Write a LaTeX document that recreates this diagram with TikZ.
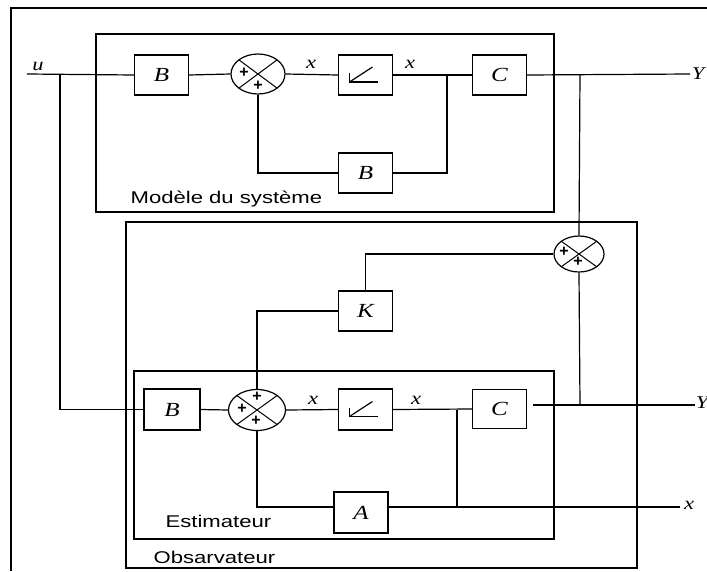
\documentclass[tikz,border=0pt]{standalone}
\usepackage{fontspec}
\setmainfont{Liberation Sans}
\newfontfamily\lblfont[FakeStretch=1.3]{Liberation Sans}
\newfontfamily\symfont[FakeStretch=1.25]{Liberation Serif}
\usetikzlibrary{shapes.geometric,calc}
\newcommand\integsym[1]{%
  \draw ($(#1)+(-16,-2)$) -- ($(#1)+(-16,7)$) -- ($(#1)+(12,7)$);
  \draw ($(#1)+(-16,7)$) -- ($(#1)+(7,-8)$);}
\begin{document}
\begin{tikzpicture}[x=1pt,y=-1pt,line width=1.2pt,
  blk/.style={draw,rectangle,minimum width=54pt,minimum height=40pt,inner sep=0pt,font=\symfont\itshape\fontsize{20}{20}\selectfont},
  summer/.style={draw,ellipse,minimum width=54pt,minimum height=40pt,inner sep=0pt,
    path picture={
      \draw[line width=1pt] ($(path picture bounding box.south west)!0.1464!(path picture bounding box.north east)$) -- ($(path picture bounding box.south west)!0.8536!(path picture bounding box.north east)$);
      \draw[line width=1pt] ($(path picture bounding box.north west)!0.1464!(path picture bounding box.south east)$) -- ($(path picture bounding box.north west)!0.8536!(path picture bounding box.south east)$);}},
  sig/.style={inner sep=0pt,font=\symfont\itshape\fontsize{18}{18}\selectfont},
  plussign/.style={inner sep=0pt,font=\bfseries\fontsize{16}{16}\selectfont},
  title/.style={inner sep=0pt,anchor=west,font=\lblfont\fontsize{17}{17}\selectfont},
  wire/.style={line width=1.2pt}]
\useasboundingbox (0,0) rectangle (707,571);
% outer frame
\draw[line width=1.4pt] (11,571) -- (11,8) -- (707,8);
% model box
\draw (96,34) rectangle (554,212);
\node[title] (lmod) at (130,199) {Modèle du système};
% observer and estimator boxes
\draw (126,222) rectangle (637,568);
\node[title] (lobs) at (153,557) {Obsarvateur};
\draw (134,371) rectangle (554,539);
\node[title] (lest) at (165,521) {Estimateur};

% ---- top row
\coordinate (uin) at (27,74);
\node[sig] (ulab) at (38,66) {u};
\node[blk] (B1) at (161.5,75) {B};
\node[summer] (S1) at (258,74) {};
\node[sig] (x1) at (311,64) {x};
\node[blk] (I1) at (365.5,75) {};
\node[sig] (x2) at (410,64) {x};
\coordinate (J1) at (447,74);
\node[blk] (C1) at (499.5,75) {C};
\coordinate (JY1) at (580,74);
\coordinate (Y1end) at (690,74);
\node[sig] (Y1) at (698,74) {Y};
\node[blk] (B2) at (365.5,173) {B};
\node[plussign] at (244,73) {+};
\node[plussign] at (258,86) {+};

\draw[wire] (uin) -- (B1.west);
\draw[wire] (B1.east) -- (S1.west);
\draw[wire] (S1.east) -- (I1.west);
\draw[wire] (I1.east) -- (C1.west);
\draw[wire] (C1.east) -- (Y1end);
\draw[wire] (S1.south) |- (B2.west);
\draw[wire] (B2.east) -| (J1);
\integsym{I1}

% ---- observer
\node[blk] (K) at (365.5,311) {K};
\node[summer,minimum width=50pt,minimum height=36pt] (S2) at (579,254) {};
\node[plussign] at (564,252) {+};
\node[plussign] at (578,262) {+};

\node[blk,minimum width=56pt,minimum height=41pt] (B3) at (172,409.5) {B};
\node[summer,minimum width=57pt,minimum height=41pt] (S3) at (257,410) {};
\node[plussign] at (257,397) {+};
\node[plussign] at (242,409) {+};
\node[plussign] at (256,421) {+};
\node[sig] (x3) at (313,400) {x};
\node[blk,minimum height=41pt] (I2) at (365.5,409.5) {};
\node[sig] (x4) at (416,400) {x};
\coordinate (J2) at (457,410);
\node[blk,minimum height=39pt] (C2) at (499.5,409) {C};
\coordinate (C2out) at (533,405);
\coordinate (JY2) at (580,405);
\coordinate (Y2end) at (695,405);
\node[sig] (Y2) at (702,403) {Y};
\node[blk,minimum height=41pt] (A) at (361,512.5) {A};
\coordinate (Xend) at (680,507);
\node[sig] (x5) at (689,505) {x};
\coordinate (JA) at (457,507);
\coordinate (Jin) at (60,74);

\draw[wire] (Jin) |- (B3.west);
\draw[wire] (B3.east) -- (S3.west);
\draw[wire] (S3.east) -- (I2.west);
\draw[wire] (I2.east) -- (C2.west);
\draw[wire] (C2out) -- (Y2end);
\draw[wire] (J2) -- (JA);
\draw[wire] (S3.south) |- (A.west |- JA);
\draw[wire] (A.east |- JA) -- (Xend);
\draw[wire] (S3.north) |- (K.west);
\draw[wire] (K.north) |- (S2.west);
\draw[wire] (JY1) -- (S2.north);
\draw[wire] (S2.south) -- (JY2);
\integsym{I2}
\end{tikzpicture}
\end{document}
